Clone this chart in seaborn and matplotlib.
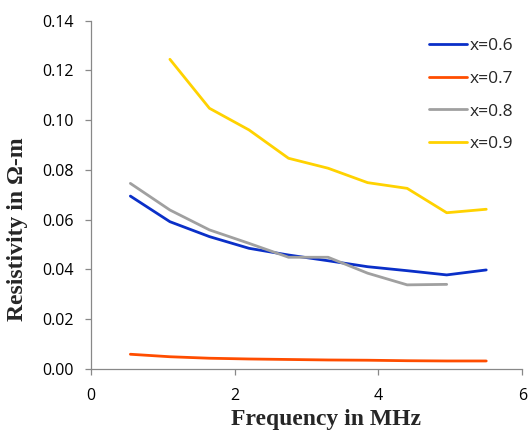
import numpy as np
import pandas as pd
import matplotlib
matplotlib.use("Agg")
import matplotlib.pyplot as plt
import seaborn as sns

freq = [0.55, 1.10, 1.65, 2.20, 2.75, 3.30, 3.85, 4.40, 4.95, 5.50]
rho_06 = [0.0695, 0.0592, 0.0532, 0.0485, 0.0458, 0.0435, 0.0411, 0.0395, 0.0378, 0.0398]
rho_07 = [0.0059, 0.0049, 0.0043, 0.0040, 0.0038, 0.0036, 0.0035, 0.0033, 0.0032, 0.0032]
freq_08 = [0.55, 1.10, 1.65, 2.20, 2.75, 3.30, 3.85, 4.40, 4.95]
rho_08 = [0.0746, 0.0639, 0.0559, 0.0505, 0.0449, 0.0449, 0.0385, 0.0338, 0.0340]
freq_09 = [1.10, 1.65, 2.20, 2.75, 3.30, 3.85, 4.40, 4.95, 5.50]
rho_09 = [0.1245, 0.1048, 0.0961, 0.0847, 0.0807, 0.0749, 0.0726, 0.0628, 0.0642]
labels = ["x=0.6", "x=0.7", "x=0.8", "x=0.9"]
colors = ["#0A2FC8", "#FF4D00", "#A0A0A0", "#FFD200"]

df = pd.concat([
    pd.DataFrame({"f": freq, "r": rho_06, "s": labels[0]}),
    pd.DataFrame({"f": freq, "r": rho_07, "s": labels[1]}),
    pd.DataFrame({"f": freq_08, "r": rho_08, "s": labels[2]}),
    pd.DataFrame({"f": freq_09, "r": rho_09, "s": labels[3]}),
])

sns.set_style("white")
plt.rcParams["font.family"] = ["Open Sans", "DejaVu Sans"]

fig = plt.figure(figsize=(5.28, 4.32), dpi=100)
ax = fig.add_axes([0.172, 0.146, 0.817, 0.806])
sns.lineplot(data=df, x="f", y="r", hue="s", palette=colors, linewidth=2.0,
             ax=ax, sort=True, estimator=None)
ax.set_xlim(0, 6)
ax.set_ylim(0, 0.14)
ax.set_xticks([0, 2, 4, 6])
ax.set_yticks(np.arange(0, 0.141, 0.02))
ax.set_yticklabels([f"{v:.2f}" for v in np.arange(0, 0.141, 0.02)])
for s in ["top", "right"]:
    ax.spines[s].set_visible(False)
for s in ["left", "bottom"]:
    ax.spines[s].set_color("#888888")
    ax.spines[s].set_linewidth(0.9)
ax.tick_params(axis="both", direction="out", length=4.5, width=0.9, color="#888888",
               labelsize=11.5, labelcolor="black", left=True, bottom=True)
ax.tick_params(axis="y", pad=8)
ax.tick_params(axis="x", pad=9)
ax.set_xlabel("Frequency in MHz", fontfamily="Liberation Serif", fontweight="bold", fontsize=17)
ax.set_ylabel("Resistivity in \u03a9-m", fontfamily="Liberation Serif", fontweight="bold", fontsize=17)
ax.xaxis.set_label_coords(0.545, -0.144)
ax.xaxis.label.set_va("center")
ax.yaxis.set_label_coords(-0.169, 0.40)
ax.yaxis.label.set_va("center")
leg = ax.legend(frameon=False, loc="upper right", bbox_to_anchor=(1.015, 0.995), fontsize=12.5,
                handlelength=2.2, handletextpad=0.15, labelspacing=0.95)
fig.savefig("out.png", dpi=100)
